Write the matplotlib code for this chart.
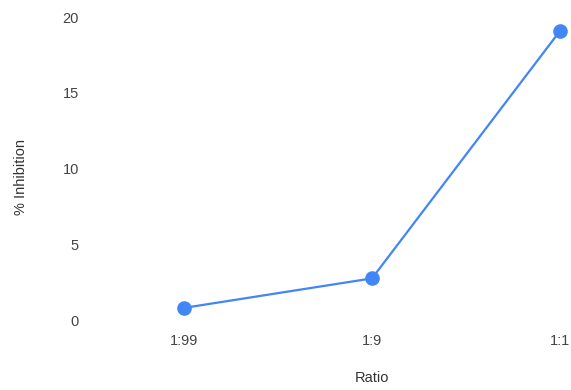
import matplotlib
matplotlib.use("Agg")
import matplotlib.pyplot as plt

plt.rcParams['font.family'] = ['Liberation Sans', 'DejaVu Sans']

# data
ratios = ["1:99", "1:9", "1:1"]
inhibition = [0.8, 2.75, 19.1]
y_ticks = [0, 5, 10, 15, 20]

W, H = 571, 390
fig = plt.figure(figsize=(W / 100, H / 100), dpi=100)

# axes box in pixels (extends past the right edge, like the cropped original)
left, right = 90, 654
top, bottom = 17.3, 320
ax = fig.add_axes([left / W, (H - bottom) / H, (right - left) / W, (bottom - top) / H])

blue = "#4285f4"
x = list(range(len(ratios)))
ax.plot(x, inhibition, color=blue, lw=1.6, marker="o", ms=9.5,
        markeredgecolor=blue, clip_on=False, solid_capstyle="round")

ax.set_xlim(-0.5, 2.5)
ax.set_ylim(0, 20)
ax.set_xticks(x)
ax.set_xticklabels(ratios)
ax.set_yticks(y_ticks)

for s in ax.spines.values():
    s.set_visible(False)
ax.tick_params(axis="both", length=0, labelsize=10.5, labelcolor="#444444")
ax.tick_params(axis="x", pad=10)
ax.tick_params(axis="y", pad=8)

ax.set_xlabel("Ratio", fontsize=10.5, color="#333333")
ax.set_ylabel("% Inhibition", fontsize=10.5, color="#333333")
ax.xaxis.set_label_coords((372 - left) / (right - left), -(378 - bottom) / (bottom - top))
ax.yaxis.set_label_coords(-(left - 21) / (right - left), (bottom - 177) / (bottom - top))
ax.xaxis.label.set_va("center")
ax.yaxis.label.set_va("center")

fig.savefig("out.png", dpi=100)
